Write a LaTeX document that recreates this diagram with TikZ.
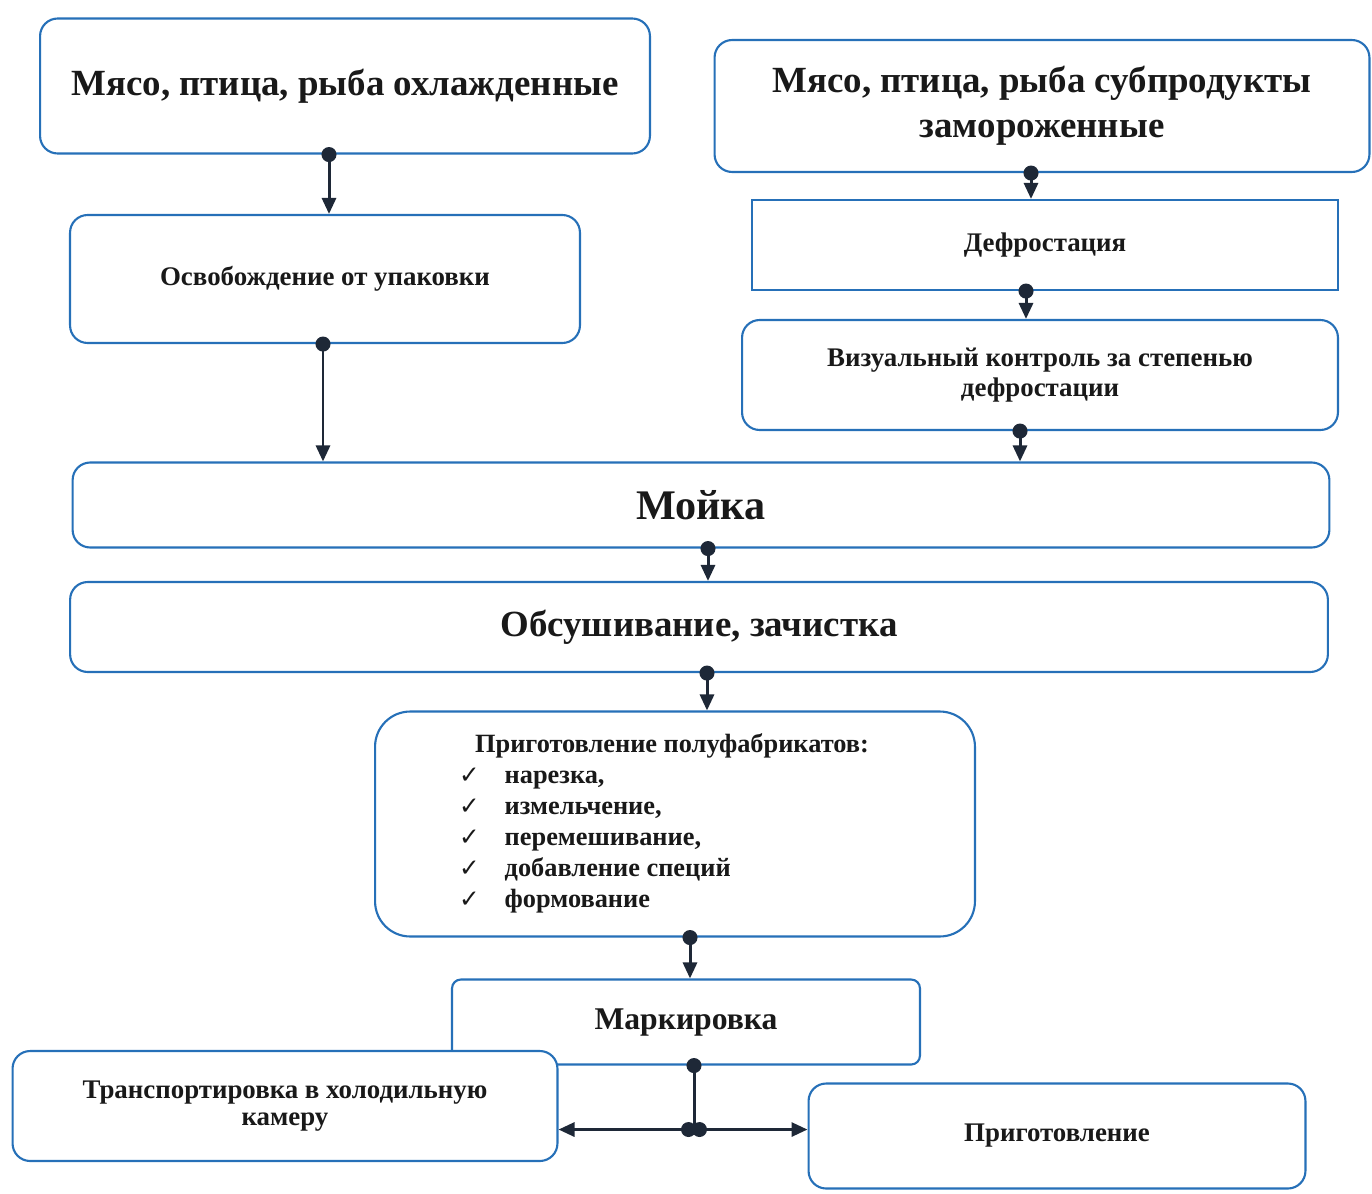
\documentclass[tikz,border=0pt]{standalone}
\usepackage{fontspec}
\setmainfont{Liberation Serif}
\newfontfamily\symfont{DejaVu Sans}
\usetikzlibrary{arrows.meta, calc}

\definecolor{boxblue}{RGB}{38,112,184}
\definecolor{linec}{RGB}{30,40,55}
\definecolor{textc}{RGB}{25,25,25}

\newcommand{\chk}{{\symfont\fontsize{14}{17}\selectfont ✓}}

\begin{document}
\begin{tikzpicture}[
  x=0.02cm, y=-0.02cm,
  box/.style={rectangle, draw=boxblue, line width=1.2pt, rounded corners=10pt,
              fill=white, align=center, inner sep=0pt, text=textc,
              font=\fontsize{15.3}{17}\selectfont\bfseries},
  bigbox/.style={box, font=\fontsize{21}{25.5}\selectfont\bfseries},
  conn/.style={{Circle[length=0.3cm]}-{Triangle[length=0.32cm, width=0.28cm]},
               shorten <=-0.15cm, line width=1.7pt, draw=linec},
  side/.style={-{Triangle[length=0.32cm, width=0.28cm]}, line width=1.7pt, draw=linec},
]
\useasboundingbox (0,0) rectangle (1372,1193);

% ---- верхний ряд ----
\node[bigbox, minimum width=12.2cm, minimum height=2.7cm] (chill) at (345,86)
  {Мясо, птица, рыба охлажденные};
\node[bigbox, minimum width=13.1cm, minimum height=2.64cm] (frozen) at (1042,106)
  {Мясо, птица, рыба субпродукты\\замороженные};

% ---- подготовка ----
\node[box, minimum width=10.2cm, minimum height=2.56cm] (unpack) at (325,279)
  {Освобождение от упаковки};
\node[box, rounded corners=0pt, minimum width=11.72cm, minimum height=1.8cm]
  (defrost) at (1045,245) {Дефростация};
\node[box, minimum width=11.92cm, minimum height=2.2cm] (visual) at (1040,375)
  {Визуальный контроль за степенью\\дефростации};

% ---- общие операции ----
\node[box, minimum width=25.14cm, minimum height=1.7cm,
      font=\fontsize{24}{28}\selectfont\bfseries] (wash) at (701,505) {Мойка};
\node[bigbox, minimum width=25.16cm, minimum height=1.8cm] (dry) at (699,627)
  {Обсушивание, зачистка};

\node[box, rounded corners=20pt, minimum width=12cm, minimum height=4.5cm,
      font=\fontsize{15}{17.6}\selectfont\bfseries] (semi) at (675,824)
  {\begin{tabular}{@{}l@{\hspace{0.5cm}}l@{}}
     \multicolumn{2}{@{}l@{}}{\hspace{0.32cm}Приготовление полуфабрикатов:\hspace*{0.44cm}}\\
     \chk & нарезка,\\
     \chk & измельчение,\\
     \chk & перемешивание,\\
     \chk & добавление специй\\
     \chk & формование
   \end{tabular}};

\node[box, rounded corners=5pt, minimum width=9.36cm, minimum height=1.7cm,
      font=\fontsize{18}{21}\selectfont\bfseries] (label) at (686,1022) {Маркировка};

\node[box, minimum width=10.9cm, minimum height=2.2cm,
      font=\fontsize{15.3}{15.5}\selectfont\bfseries] (transport) at (285,1106)
  {Транспортировка в холодильную\\камеру};
\node[box, minimum width=9.94cm, minimum height=2.1cm] (cook) at (1057,1136)
  {Приготовление};

% ---- связи ----
\draw[conn] ([xshift=-0.32cm]chill.south) -- ([xshift=-0.32cm]chill.south |- unpack.north);
\draw[conn] ([xshift=-0.04cm]unpack.south) -- ([xshift=-0.04cm]unpack.south |- wash.north);
\draw[conn] ([xshift=-0.22cm]frozen.south) -- ([xshift=-0.22cm]frozen.south |- defrost.north);
\draw[conn] ([xshift=-0.38cm]defrost.south) -- ([xshift=-0.38cm]defrost.south |- visual.north);
\draw[conn] ([xshift=-0.4cm]visual.south) -- ([xshift=-0.4cm]visual.south |- wash.north);
\draw[conn] ([xshift=0.14cm]wash.south) -- ([xshift=0.14cm]wash.south |- dry.north);
\draw[conn] ([xshift=0.16cm]dry.south) -- ([xshift=0.16cm]dry.south |- semi.north);
\draw[conn] ([xshift=0.3cm]semi.south) -- ([xshift=0.3cm]semi.south |- label.north);

% ---- развилка ----
\coordinate (fork) at ($(label.south)+(0.16cm,-1.28cm)$);
\draw[line width=1.7pt, draw=linec, {Circle[length=0.3cm]}-, shorten <=-0.15cm]
  ([xshift=0.16cm]label.south) -- (fork);
\draw[side] (fork) -- (fork -| transport.east);
\draw[side] (fork) -- (fork -| cook.west);
\fill[linec] ([xshift=-0.11cm]fork) circle (0.15cm) ([xshift=0.11cm]fork) circle (0.15cm);

\end{tikzpicture}
\end{document}
